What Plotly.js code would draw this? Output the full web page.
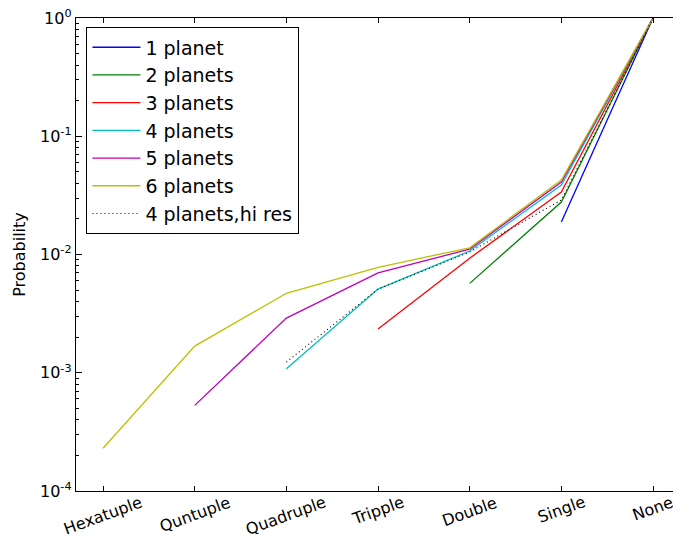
<!DOCTYPE html>
<html>
<head>
<meta charset="utf-8">
<script src="https://cdn.plot.ly/plotly-3.0.1.min.js"></script>
<style>html,body{margin:0;padding:0;background:#fff;}#chart{width:673px;height:539px;}</style>
</head>
<body>
<div id="chart"></div>
<script>
var categories = ['Hexatuple','Quntuple','Quadruple','Tripple','Double','Single','None'];
var p1   = [null, null, null, null, null, 0.0188, 1.0];
var p2   = [null, null, null, null, 0.0057, 0.0278, 1.0];
var p3   = [null, null, null, 0.00234, 0.0093, 0.0338, 1.0];
var p4   = [null, null, 0.00108, 0.0051, 0.0107, 0.0387, 1.0];
var p5   = [null, 0.00053, 0.0029, 0.0070, 0.0111, 0.0410, 1.0];
var p6   = [0.00023, 0.00168, 0.0047, 0.0078, 0.0114, 0.0427, 1.0];
var p4hi = [null, null, 0.00123, 0.0051, 0.0105, 0.0289, 1.0];
var seriesNames = ['1 planet','2 planets','3 planets','4 planets','5 planets','6 planets','4 planets,hi res'];
var yTickVals = [1e-4, 1e-3, 1e-2, 1e-1, 1];
var yTickText = ['10<sup>-4</sup>','10<sup>-3</sup>','10<sup>-2</sup>','10<sup>-1</sup>','10<sup>0</sup>'];

var series = [p1,p2,p3,p4,p5,p6,p4hi];
var colors = ['#0000ff','#008000','#ff0000','#00bfbf','#bf00bf','#bfbf00','#000000'];
var traces = series.map(function(s,i){
  return {
    x: categories, y: s, type: 'scatter', mode: 'lines',
    name: seriesNames[i], legendgroup: 'g'+i,
    line: {color: colors[i], width: i===6 ? 1.1 : 1.3, dash: i===6 ? '1px,3px' : 'solid'},
    connectgaps: false
  };
});

var font = 'DejaVu Sans, Verdana, sans-serif';
var xLabels = categories.map(function(c){
  return {
    x: c, xref: 'x', y: 0, yref: 'paper', yanchor: 'top', xanchor: 'center',
    yshift: 1, text: c, textangle: -20, showarrow: false,
    font: {family: font, size: 16, color: '#000'}
  };
});

var layout = {
  width: 673, height: 539,
  margin: {l: 76, r: 0, t: 18, b: 48},
  paper_bgcolor: '#fff', plot_bgcolor: '#fff',
  font: {family: font, color: '#000'},
  showlegend: true,
  legend: {
    x: 0.0168, y: 0.981, xanchor: 'left', yanchor: 'top',
    bgcolor: '#fff', bordercolor: '#000', borderwidth: 1.4,
    font: {family: font, size: 19, color: '#000'},
    traceorder: 'grouped', tracegroupgap: 0, itemwidth: 48
  },
  annotations: xLabels,
  xaxis: {
    type: 'category', range: [-0.295, 6.218],
    showticklabels: false, ticks: 'inside', ticklen: 5, tickcolor: '#000',
    showline: true, linecolor: '#000', linewidth: 1.3, mirror: 'allticks',
    showgrid: false, zeroline: false
  },
  yaxis: {
    type: 'log', range: [-4, 0],
    tickmode: 'array', tickvals: yTickVals, ticktext: yTickText,
    ticks: 'inside', ticklen: 6, tickcolor: '#000',
    minor: {ticks: 'inside', ticklen: 3, tickcolor: '#000', dtick: 'D1', showgrid: false},
    showline: true, linecolor: '#000', linewidth: 1.3, mirror: false,
    showgrid: false, zeroline: false,
    tickfont: {family: font, size: 16, color: '#000'},
    title: {text: 'Probability', font: {family: font, size: 16, color: '#000'}, standoff: 10}
  }
};
Plotly.newPlot('chart', traces, layout, {displayModeBar: false, staticPlot: true});
</script>
</body>
</html>
